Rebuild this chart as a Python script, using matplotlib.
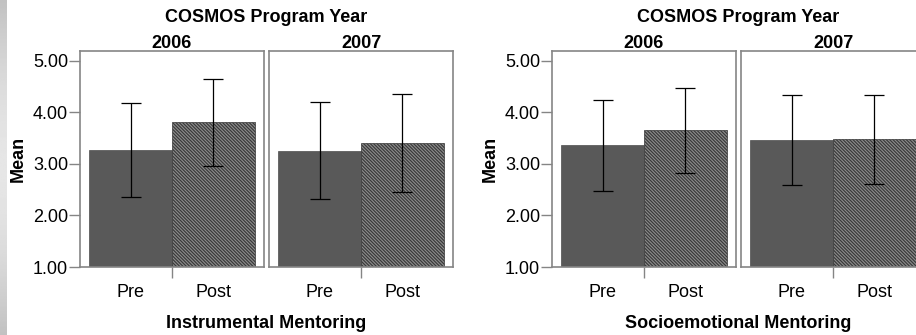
import numpy as np
import matplotlib.pyplot as plt

plt.rcParams['font.family'] = ['Liberation Sans', 'DejaVu Sans']
plt.rcParams['hatch.linewidth'] = 0.9

years = ['2006', '2007']
phases = ['Pre', 'Post']
yticks = [1.0, 2.0, 3.0, 4.0, 5.0]

# rows: program year, columns: Pre / Post
instr_means = [[3.27, 3.82], [3.26, 3.41]]
instr_low = [[2.36, 2.96], [2.32, 2.46]]
instr_high = [[4.18, 4.66], [4.20, 4.36]]

socio_means = [[3.37, 3.66], [3.46, 3.48]]
socio_low = [[2.48, 2.82], [2.60, 2.61]]
socio_high = [[4.25, 4.48], [4.33, 4.34]]

W, H = 916, 335
fig = plt.figure(figsize=(W / 100, H / 100), dpi=100)


def px_axes(x0, y0, x1, y1):
    # box in pixels, y counted from the top
    return fig.add_axes([x0 / W, 1 - y1 / H, (x1 - x0) / W, (y1 - y0) / H])


def px_text(x, y, s, **kw):
    kw.setdefault('ha', 'center')
    kw.setdefault('va', 'center')
    fig.text(x / W, 1 - y / H, s, **kw)


# grey strip down the left edge
strip = px_axes(0, 0, 7, H)
grad = 0.76 + 0.14 * np.sin(np.linspace(0, np.pi, 200))
strip.imshow(grad[:, None], cmap='gray', vmin=0, vmax=1, aspect='auto',
             extent=[0, 1, 0, 1])
strip.axis('off')

frame_col = '#858585'


def draw_chart(x_off, xlabel, means, low, high):
    for i, yr in enumerate(years):
        left = x_off + 80 + i * 189
        ax = px_axes(left, 51, left + 184, 267)
        m = np.array(means[i])
        lo = np.array(low[i])
        hi = np.array(high[i])
        x = np.array([0.5, 1.5])
        ax.bar(x[0], m[0], width=1.0, color='#595959', edgecolor='#4d4d4d',
               linewidth=0.5)
        ax.bar(x[1], m[1], width=1.0, color='#8e8e8e', edgecolor='#3a3a3a',
               linewidth=0.5, hatch='\\' * 10)
        ax.errorbar(x, m, yerr=[m - lo, hi - m], fmt='none', ecolor='black',
                    elinewidth=0.9, capsize=7.5, capthick=0.9)
        ax.set_xlim(-0.11, 2.11)
        ax.set_ylim(1.0, 5.194)
        for sp in ax.spines.values():
            sp.set_color(frame_col)
            sp.set_linewidth(1.2)
        ax.set_xticks(x, phases)
        ax.set_xticks([1.0], minor=True)
        ax.tick_params(axis='x', which='major', length=0, pad=12,
                       labelsize=13)
        ax.tick_params(axis='x', which='minor', length=8, width=1.0,
                       color=frame_col, direction='out')
        if i == 0:
            ax.set_yticks(yticks, ['%.2f' % v for v in yticks])
            ax.tick_params(axis='y', length=8, width=1.0, color=frame_col,
                           pad=0.5, labelsize=13)
        else:
            ax.set_yticks([])
        px_text(left + 92, 43, yr, fontsize=13, fontweight='bold')

    px_text(x_off + 266.5, 17, 'COSMOS Program Year', fontsize=13,
            fontweight='bold')
    px_text(x_off + 266.5, 324, xlabel, fontsize=13, fontweight='bold')
    px_text(x_off + 18, 159, 'Mean', fontsize=13, fontweight='bold',
            rotation=90)


draw_chart(0, 'Instrumental Mentoring', instr_means, instr_low, instr_high)
draw_chart(472, 'Socioemotional Mentoring', socio_means, socio_low, socio_high)

fig.savefig('out.png', dpi=100)
